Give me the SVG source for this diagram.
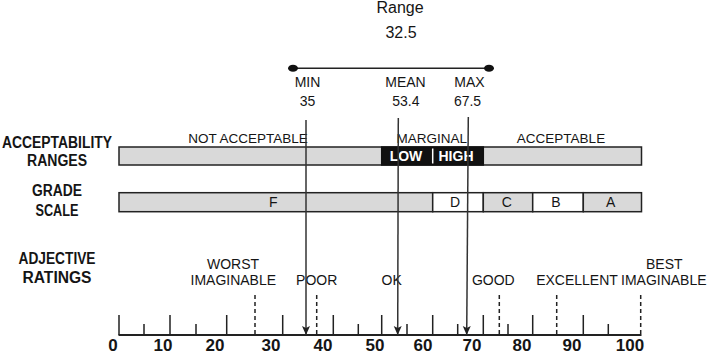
<svg xmlns="http://www.w3.org/2000/svg" width="709" height="355" viewBox="0 0 709 355">
<style>
text{font-family:"Liberation Sans",Arial,sans-serif;fill:#151515}
.hd{font-weight:bold;font-size:16px;text-anchor:middle}
.lb{font-size:14px;text-anchor:middle}
.top{font-size:16px;text-anchor:middle}
.num{font-weight:bold;font-size:17px;text-anchor:middle}
.bar{stroke:#222;stroke-width:1.5}
.g{fill:#d9d9d9}
.w{fill:#fff}
.tick{stroke:#222;stroke-width:1.5}
.dash{stroke:#222;stroke-width:1.5;stroke-dasharray:4 3}
.arr{stroke:#333;stroke-width:1.5;fill:none;marker-end:url(#ah)}
.wt{fill:#fff;font-weight:bold;font-size:14px;text-anchor:middle}
</style>
<defs>
<marker id="ah" viewBox="-1 -5 11 10" refX="9" refY="0" markerWidth="11" markerHeight="10" markerUnits="userSpaceOnUse" orient="auto">
<path d="M0,-4 L9,0 L0,4 L2,0 z" fill="#222"/>
</marker>
</defs>
<rect width="709" height="355" fill="#fff"/>

<g id="headings">
<text class="hd" x="57" y="148" textLength="110" lengthAdjust="spacingAndGlyphs">ACCEPTABILITY</text>
<text class="hd" x="57" y="165.5" textLength="60" lengthAdjust="spacingAndGlyphs">RANGES</text>
<text class="hd" x="57" y="196" textLength="50" lengthAdjust="spacingAndGlyphs">GRADE</text>
<text class="hd" x="57" y="215.5" textLength="43" lengthAdjust="spacingAndGlyphs">SCALE</text>
<text class="hd" x="57" y="264" textLength="77" lengthAdjust="spacingAndGlyphs">ADJECTIVE</text>
<text class="hd" x="57" y="283" textLength="69" lengthAdjust="spacingAndGlyphs">RATINGS</text>
</g>

<g id="range">
<text class="top" x="400" y="13">Range</text>
<text class="top" x="401" y="38">32.5</text>
<line x1="293" y1="68.3" x2="489" y2="68.3" stroke="#222" stroke-width="1.4"/>
<ellipse cx="293" cy="68.3" rx="5" ry="3.5" fill="#111"/>
<ellipse cx="489" cy="68.3" rx="5" ry="3.5" fill="#111"/>
</g>

<g id="min">
<text class="lb" x="307.5" y="87">MIN</text>
<text class="lb" x="307.5" y="106">35</text>
</g>
<g id="mean">
<text class="lb" x="405.5" y="87">MEAN</text>
<text class="lb" x="405.8" y="106">53.4</text>
</g>
<g id="max">
<text class="lb" x="469.5" y="87">MAX</text>
<text class="lb" x="467.5" y="106">67.5</text>
</g>

<g id="acceptability">
<rect class="bar g" x="119" y="147" width="522.5" height="18"/>
<rect x="381.7" y="147" width="101.6" height="18" fill="#111" stroke="#111" stroke-width="1.5"/>
<line x1="432.7" y1="148.5" x2="432.7" y2="163.5" stroke="#fff" stroke-width="1.5"/>
<text class="wt" x="406" y="160.5">LOW</text>
<text class="wt" x="456" y="160.5">HIGH</text>
<text class="lb" x="248" y="142.5" style="font-size:13.5px">NOT ACCEPTABLE</text>
<text class="lb" x="431.7" y="142.5" style="font-size:13.5px">MARGINAL</text>
<text class="lb" x="561" y="142.5" style="font-size:13.5px">ACCEPTABLE</text>
</g>

<g id="grade">
<rect class="bar g" x="119" y="192.7" width="313.7" height="19"/>
<rect class="bar w" x="432.7" y="192.7" width="50.6" height="19"/>
<rect class="bar g" x="483.3" y="192.7" width="49.4" height="19"/>
<rect class="bar w" x="532.7" y="192.7" width="50.6" height="19"/>
<rect class="bar g" x="583.3" y="192.7" width="58.2" height="19"/>
<text class="lb" x="273.3" y="206.8">F</text>
<text class="lb" x="455" y="206.8">D</text>
<text class="lb" x="506.7" y="206.8">C</text>
<text class="lb" x="556" y="206.8">B</text>
<text class="lb" x="610.7" y="206.8">A</text>
</g>

<g id="adjectives">
<text class="lb" x="233" y="269">WORST</text>
<text class="lb" x="233.3" y="285">IMAGINABLE</text>
<text class="lb" x="316.7" y="285">POOR</text>
<text class="lb" x="391.7" y="285">OK</text>
<text class="lb" x="493.3" y="285">GOOD</text>
<text class="lb" x="577" y="285">EXCELLENT</text>
<text class="lb" x="664.3" y="269">BEST</text>
<text class="lb" x="663.8" y="285">IMAGINABLE</text>
<line class="dash" x1="255" y1="295" x2="255" y2="335"/>
<line class="dash" x1="316.7" y1="295" x2="316.7" y2="335"/>
<line class="dash" x1="499.3" y1="295" x2="499.3" y2="335"/>
<line class="dash" x1="556.7" y1="295" x2="556.7" y2="335"/>
<line class="dash" x1="640.7" y1="295" x2="640.7" y2="335"/>
</g>

<g id="axis">
<line x1="118.5" y1="335" x2="641.5" y2="335" stroke="#222" stroke-width="2"/>
<path class="tick" d="M119,315V335 M170,315V335 M226.7,315V335 M282.7,315V335 M333.3,315V335 M381.7,315V335 M432.7,315V335 M483.3,315V335 M532.7,315V335 M583.3,315V335"/>
<path class="tick" d="M144,324V335 M196,324V335 M358.3,324V335 M407,324V335 M457.7,324V335 M508,324V335 M608.3,324V335"/>
<text class="num" x="113" y="350.5">0</text>
<text class="num" x="163" y="350.5">10</text>
<text class="num" x="215" y="350.5">20</text>
<text class="num" x="271" y="350.5">30</text>
<text class="num" x="323" y="350.5">40</text>
<text class="num" x="375" y="350.5">50</text>
<text class="num" x="423" y="350.5">60</text>
<text class="num" x="472" y="350.5">70</text>
<text class="num" x="522" y="350.5">80</text>
<text class="num" x="572" y="350.5">90</text>
<text class="num" x="630" y="350.5">100</text>
</g>

<g id="connectors">
<line class="arr" x1="306" y1="120" x2="306" y2="335"/>
<line class="arr" x1="398.3" y1="118" x2="397.7" y2="335"/>
<line class="arr" x1="468.3" y1="117" x2="466.7" y2="335"/>
</g>
</svg>
